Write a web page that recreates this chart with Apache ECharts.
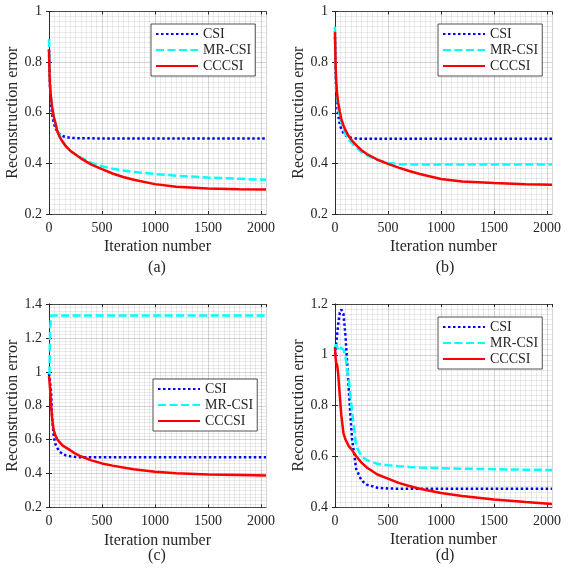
<!DOCTYPE html>
<html>
<head>
<meta charset="utf-8">
<script src="https://cdn.jsdelivr.net/npm/echarts@6/dist/echarts.min.js"></script>
<style>
  html, body { margin: 0; padding: 0; background: #fff; }
  #main { width: 568px; height: 573px; }
</style>
</head>
<body>
<div id="main"></div>
<script>
const iters = [0, 5, 10, 20, 30, 45, 60, 80, 100, 130, 160, 200, 250, 300, 400, 500, 600, 700, 800, 1000, 1200, 1500, 1800, 2048];

// (a)
const csiA = [0.85, 0.76, 0.70, 0.63, 0.59, 0.56, 0.54, 0.525, 0.515, 0.508, 0.504, 0.501, 0.500, 0.499, 0.499, 0.498, 0.498, 0.498, 0.498, 0.498, 0.498, 0.498, 0.498, 0.498];
const mrA  = [0.89, 0.78, 0.72, 0.66, 0.62, 0.585, 0.56, 0.53, 0.51, 0.487, 0.468, 0.45, 0.435, 0.423, 0.402, 0.389, 0.379, 0.372, 0.366, 0.358, 0.351, 0.344, 0.339, 0.335];
const ccA  = [0.85, 0.75, 0.70, 0.655, 0.62, 0.585, 0.56, 0.525, 0.505, 0.484, 0.467, 0.45, 0.435, 0.42, 0.395, 0.377, 0.36, 0.346, 0.335, 0.318, 0.308, 0.301, 0.298, 0.297];

// (b)
const csiB = [0.90, 0.78, 0.70, 0.63, 0.59, 0.555, 0.535, 0.52, 0.51, 0.503, 0.50, 0.498, 0.497, 0.497, 0.497, 0.497, 0.497, 0.497, 0.497, 0.497, 0.497, 0.497, 0.497, 0.497];
const mrB  = [0.94, 0.80, 0.72, 0.66, 0.62, 0.585, 0.56, 0.535, 0.515, 0.495, 0.48, 0.463, 0.445, 0.432, 0.413, 0.402, 0.397, 0.396, 0.396, 0.396, 0.396, 0.396, 0.396, 0.396];
const ccB  = [0.92, 0.80, 0.73, 0.675, 0.64, 0.605, 0.575, 0.55, 0.53, 0.507, 0.49, 0.472, 0.452, 0.437, 0.415, 0.398, 0.383, 0.37, 0.358, 0.338, 0.328, 0.322, 0.318, 0.316];

// (c)
const csiC = [0.99, 1.00, 1.00, 0.88, 0.72, 0.62, 0.575, 0.55, 0.53, 0.515, 0.507, 0.502, 0.498, 0.496, 0.496, 0.496, 0.496, 0.496, 0.496, 0.496, 0.496, 0.496, 0.496, 0.496];
const mrC  = [0.985, 1.00, 1.25, 1.332, 1.332, 1.332, 1.332, 1.332, 1.332, 1.332, 1.332, 1.332, 1.332, 1.332, 1.332, 1.332, 1.332, 1.332, 1.332, 1.332, 1.332, 1.332, 1.332, 1.332];
const ccC  = [0.975, 0.94, 0.90, 0.80, 0.72, 0.655, 0.625, 0.60, 0.585, 0.565, 0.553, 0.538, 0.517, 0.502, 0.478, 0.46, 0.447, 0.436, 0.426, 0.411, 0.402, 0.395, 0.391, 0.388];

// (d)
const csiD = [1.00, 1.02, 1.04, 1.08, 1.12, 1.165, 1.178, 1.16, 1.07, 0.86, 0.67, 0.55, 0.505, 0.488, 0.476, 0.473, 0.472, 0.472, 0.472, 0.472, 0.472, 0.472, 0.472, 0.472];
const mrD  = [1.03, 1.035, 1.04, 1.03, 1.02, 1.03, 1.03, 1.02, 0.99, 0.90, 0.78, 0.64, 0.60, 0.585, 0.57, 0.565, 0.561, 0.558, 0.556, 0.553, 0.551, 0.549, 0.547, 0.546];
const ccD  = [1.03, 0.99, 0.97, 0.96, 0.925, 0.84, 0.76, 0.69, 0.665, 0.64, 0.625, 0.60, 0.575, 0.556, 0.528, 0.512, 0.495, 0.483, 0.472, 0.455, 0.443, 0.43, 0.42, 0.412];

const seriesNames = ['CSI', 'MR-CSI', 'CCCSI'];
const tags = ['(a)', '(b)', '(c)', '(d)'];
const yRanges = [[0.2, 1], [0.2, 1], [0.2, 1.4], [0.4, 1.2]];

const FONT = '"Liberation Serif", "Times New Roman", serif';
const INK = '#262626';
const XMAX = 2048;

const panels = [
  { grid: { left: 49, top: 11.5, width: 217, height: 202.5 }, data: [csiA, mrA, ccA], legend: { left: 151, top: 24 }, tag: { x: 157, y: 268 } },
  { grid: { left: 335, top: 11.5, width: 217, height: 202.5 }, data: [csiB, mrB, ccB], legend: { left: 438, top: 24 }, tag: { x: 445, y: 268 } },
  { grid: { left: 49, top: 304, width: 217, height: 203.5 }, data: [csiC, mrC, ccC], legend: { left: 153, top: 379 }, tag: { x: 157, y: 556 } },
  { grid: { left: 335, top: 304, width: 217, height: 203 }, data: [csiD, mrD, ccD], legend: { left: 438, top: 317 }, tag: { x: 445, y: 556 } }
];

const lineStyles = [
  { color: '#0000ff', type: [2.5, 2.5], width: 2.5 },
  { color: '#00ffff', type: [8, 3.5], width: 2.5 },
  { color: '#ff0000', type: 'solid', width: 2.5 }
];

const grids = [], xAxes = [], yAxes = [], series = [], legends = [], graphics = [];

panels.forEach((p, i) => {
  const [ymin, ymax] = yRanges[i];
  grids.push(Object.assign({ containLabel: false }, p.grid));

  // bottom axis with labels
  xAxes.push({
    gridIndex: i, type: 'value', position: 'bottom', min: 0, max: XMAX, interval: 500,
    name: 'Iteration number', nameLocation: 'middle', nameGap: 25,
    nameTextStyle: { fontFamily: FONT, fontSize: 16, color: INK },
    axisLine: { show: true, lineStyle: { color: INK, width: 0.8 } },
    axisTick: { show: true, inside: true, length: 3, lineStyle: { color: INK } },
    axisLabel: { fontFamily: FONT, fontSize: 14, color: INK, margin: 7, showMaxLabel: false,
      formatter: v => String(v) },
    splitLine: { show: true, lineStyle: { color: 'rgba(0,0,0,0.09)', width: 1 } }
  });
  // top axis, box edge
  xAxes.push({
    gridIndex: i, type: 'value', position: 'top', min: 0, max: XMAX, interval: 500,
    axisLine: { show: true, lineStyle: { color: INK, width: 0.8 } },
    axisTick: { show: true, inside: true, length: 3, lineStyle: { color: INK } },
    axisLabel: { show: false }, splitLine: { show: false }
  });
  // minor grid
  xAxes.push({
    gridIndex: i, type: 'value', position: 'bottom', min: 0, max: XMAX, interval: 50,
    axisLine: { show: false }, axisTick: { show: false }, axisLabel: { show: false },
    splitLine: { show: true, lineStyle: { color: 'rgba(0,0,0,0.08)', width: 1 } }
  });

  yAxes.push({
    gridIndex: i, type: 'value', position: 'left', min: ymin, max: ymax, interval: 0.2,
    name: 'Reconstruction error', nameLocation: 'middle', nameGap: 24,
    nameTextStyle: { fontFamily: FONT, fontSize: 16, color: INK },
    axisLine: { show: true, lineStyle: { color: INK, width: 0.8 } },
    axisTick: { show: true, inside: true, length: 3, lineStyle: { color: INK } },
    axisLabel: { fontFamily: FONT, fontSize: 14, color: INK, margin: 7 },
    splitLine: { show: true, lineStyle: { color: 'rgba(0,0,0,0.09)', width: 1 } }
  });
  yAxes.push({
    gridIndex: i, type: 'value', position: 'right', min: ymin, max: ymax, interval: 0.2,
    axisLine: { show: true, lineStyle: { color: INK, width: 0.8 } },
    axisTick: { show: true, inside: true, length: 3, lineStyle: { color: INK } },
    axisLabel: { show: false }, splitLine: { show: false }
  });
  yAxes.push({
    gridIndex: i, type: 'value', position: 'left', min: ymin, max: ymax, interval: 0.02,
    axisLine: { show: false }, axisTick: { show: false }, axisLabel: { show: false },
    splitLine: { show: true, lineStyle: { color: 'rgba(0,0,0,0.08)', width: 1 } }
  });

  p.data.forEach((vals, k) => {
    series.push({
      name: seriesNames[k], type: 'line',
      xAxisIndex: i * 3, yAxisIndex: i * 3,
      data: iters.map((it, j) => [it, vals[j]]),
      symbol: 'none', showSymbol: false, smooth: false,
      lineStyle: lineStyles[k], itemStyle: { color: lineStyles[k].color },
      z: 3 + k
    });
  });

  legends.push({
    data: seriesNames, orient: 'vertical', left: p.legend.left, top: p.legend.top,
    itemWidth: 42, itemHeight: 14, itemGap: 2,
    padding: [3, 4, 3, 4],
    backgroundColor: '#fff', borderColor: INK, borderWidth: 0.8,
    // hide the marker circle, keep only the line sample
    itemStyle: { opacity: 0, color: 'rgba(0,0,0,0)', borderWidth: 0 },
    textStyle: { fontFamily: FONT, fontSize: 14, color: INK },
    selectedMode: false
  });

  graphics.push({
    type: 'text', x: p.tag.x, y: p.tag.y,
    style: { text: tags[i], fontFamily: FONT, fontSize: 16, fill: INK, textAlign: 'center', textVerticalAlign: 'middle' }
  });
});

const chart = echarts.init(document.getElementById('main'), null, { renderer: 'canvas' });
chart.setOption({
  animation: false,
  backgroundColor: '#fff',
  grid: grids,
  xAxis: xAxes,
  yAxis: yAxes,
  legend: legends,
  graphic: graphics,
  series: series
});
</script>
</body>
</html>
